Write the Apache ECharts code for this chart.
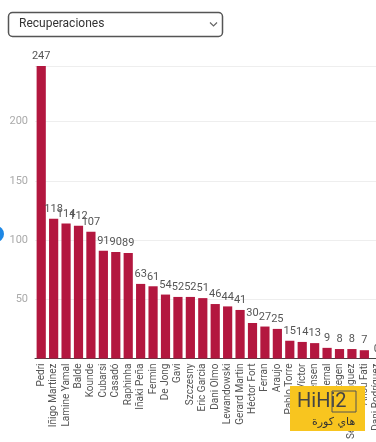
<!DOCTYPE html>
<html>
<head>
<meta charset="utf-8">
<script src="https://cdn.jsdelivr.net/npm/echarts@6/dist/echarts.min.js"></script>
<style>
  html, body { margin: 0; padding: 0; background: #fff; overflow: hidden; }
  #chart { width: 383px; height: 442px; }
</style>
</head>
<body>
<div id="chart"></div>
<script>
// jugadores y recuperaciones
const players = [
  'Pedri', 'Iñigo Martinez', 'Lamine Yamal', 'Balde', 'Kounde', 'Cubarsi', 'Casadó',
  'Raphinha', 'Iñaki Peña', 'Fermin', 'De Jong', 'Gavi', 'Szczesny', 'Eric Garcia',
  'Dani Olmo', 'Lewandowski', 'Gerard Martin', 'Héctor Fort', 'Ferran', 'Araujo',
  'Pablo Torre', 'Pau Víctor', 'Christensen', 'Marc Bernal', 'Ter Stegen',
  'Sergi Domínguez', 'Ansu Fati', 'Dani Rodríguez'
];
const recoveries = [
  247, 118, 114, 112, 107, 91, 90, 89, 63, 61, 54, 52, 52, 51,
  46, 44, 41, 30, 27, 25, 15, 14, 13, 9, 8, 8, 7, 0
];
const yTicks = [0, 50, 100, 150, 200];

// el div es algo más ancho que la ventana: la última barra queda cortada como en el original
const chart = echarts.init(document.getElementById('chart'));

chart.setOption({
  animation: false,
  textStyle: { fontFamily: 'Roboto, sans-serif' },
  grid: { left: 35, top: 66, right: 0, bottom: 82, containLabel: false },
  xAxis: {
    type: 'category',
    data: players,
    axisLine: { lineStyle: { color: '#444', width: 1 } },
    axisTick: { show: false },
    axisLabel: { rotate: 90, interval: 0, fontSize: 10, color: '#555', margin: 5 }
  },
  yAxis: {
    type: 'value',
    min: 0,
    max: 247,
    interval: 50,
    axisLine: { show: false },
    axisTick: { show: false },
    splitLine: { lineStyle: { color: '#eee' } },
    axisLabel: {
      fontSize: 11,
      color: '#aaa',
      margin: 7,
      showMinLabel: false,
      showMaxLabel: false,
      formatter: v => (yTicks.includes(v) ? String(v) : '')
    }
  },
  series: [{
    type: 'bar',
    data: recoveries,
    barWidth: '74%',
    itemStyle: { color: '#b3173f' },
    label: { show: true, position: 'top', fontSize: 11, color: '#555', distance: 4 }
  }],
  graphic: [
    {
      type: 'rect',
      shape: { x: 8.5, y: 12.5, width: 214, height: 24, r: 4 },
      style: { fill: '#fff', stroke: '#555', lineWidth: 1.5 }
    },
    {
      type: 'text',
      x: 19, y: 24,
      style: { text: 'Recuperaciones', fontSize: 12, fill: '#333', verticalAlign: 'middle', fontFamily: 'Roboto, sans-serif' }
    },
    {
      type: 'polyline',
      shape: { points: [[210, 22.5], [213.5, 26], [217, 22.5]] },
      style: { stroke: '#666', lineWidth: 1.2, fill: null }
    },
    {
      type: 'circle',
      shape: { cx: -4, cy: 234, r: 8 },
      style: { fill: '#1e88e5' }
    },
    {
      type: 'rect',
      shape: { x: 290, y: 386, width: 75, height: 45 },
      style: { fill: '#f8c51f' },
      z: 100
    },
    {
      type: 'text',
      x: 297, y: 402,
      style: { text: 'HiHi2', fontSize: 20, fill: '#444', verticalAlign: 'middle', fontFamily: 'Roboto, sans-serif' },
      z: 101
    },
    {
      type: 'rect',
      shape: { x: 332, y: 391, width: 24, height: 21 },
      style: { fill: null, stroke: '#555', lineWidth: 1 },
      z: 101
    },
    {
      type: 'text',
      x: 312, y: 422,
      style: { text: 'هاي كورة', fontSize: 11, fill: '#333', verticalAlign: 'middle', fontFamily: '"DejaVu Sans", sans-serif' },
      z: 101
    }
  ]
});
</script>
</body>
</html>
